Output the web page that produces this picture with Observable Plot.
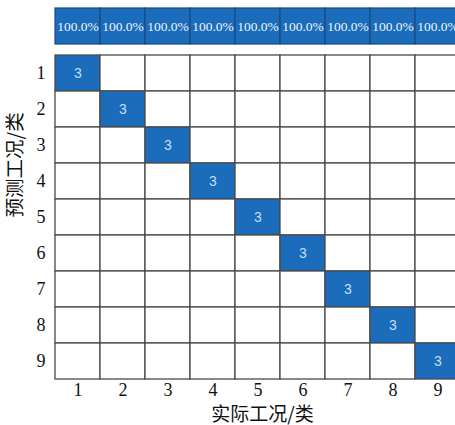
<!DOCTYPE html>
<html>
<head>
<meta charset="utf-8">
<script src="https://cdn.jsdelivr.net/npm/d3@7"></script>
<script src="https://cdn.jsdelivr.net/npm/@observablehq/plot@0.6"></script>
<style>
  html, body { margin: 0; padding: 0; background: #fff; overflow: hidden; width: 455px; height: 425px; }
  #chart { width: 455px; overflow: hidden; }
  #chart svg { display: block; max-width: none !important; }
</style>
</head>
<body>
<div id="chart"></div>
<script>
// Class labels (actual on x, predicted on y)
const actualClasses = ["1","2","3","4","5","6","7","8","9"];
const predictedClasses = ["1","2","3","4","5","6","7","8","9"];
// Diagonal counts (correctly classified samples per class); all off-diagonal cells are 0
const diagonalCounts = [3,3,3,3,3,3,3,3,3];
// Per-class accuracy shown in the top strip
const accuracyLabels = ["100.0%","100.0%","100.0%","100.0%","100.0%","100.0%","100.0%","100.0%","100.0%"];

const xTitle = "实际工况/类";
const yTitle = "预测工况/类";

const blue = "#1b6dbb";
const serif = "Liberation Serif";
const cjk = "Noto Sans CJK SC";

const cells = [];
predictedClasses.forEach((p, i) => {
  actualClasses.forEach((a, j) => {
    cells.push({actual: a, predicted: p, count: i === j ? diagonalCounts[j] : 0});
  });
});
const accuracy = actualClasses.map((a, j) => ({actual: a, label: accuracyLabels[j]}));

const svgStyle = {maxWidth: "none", overflow: "hidden", background: "#fff"};

const stripChart = Plot.plot({
  width: 461, height: 54,
  marginLeft: 53, marginRight: 0, marginTop: 8, marginBottom: 10,
  style: svgStyle,
  x: {type: "band", domain: actualClasses, padding: 0, axis: null},
  marks: [
    Plot.cell(accuracy, {x: "actual", fill: blue, stroke: "#1a4c80", strokeWidth: 1.2}),
    Plot.text(accuracy, {x: "actual", frameAnchor: "middle", text: "label", fill: "#eef4fb",
      fontSize: 13.5, fontFamily: serif})
  ]
});

const matrixChart = Plot.plot({
  width: 461, height: 371,
  marginLeft: 53, marginRight: 0, marginTop: 1, marginBottom: 46,
  style: svgStyle,
  x: {type: "band", domain: actualClasses, padding: 0},
  y: {type: "band", domain: predictedClasses, padding: 0},
  marks: [
    Plot.cell(cells, {x: "actual", y: "predicted", fill: d => d.count > 0 ? blue : "#ffffff",
      stroke: "#4a4a4a", strokeWidth: 1.3}),
    Plot.text(cells.filter(d => d.count > 0), {x: "actual", y: "predicted", text: d => String(d.count),
      fill: "#c6def5", fontSize: 14, fontFamily: "Liberation Sans"}),
    Plot.axisX({tickSize: 0, tickPadding: 4, fontSize: 18, fontFamily: serif, fill: "#111", label: null}),
    Plot.axisY({tickSize: 0, tickPadding: 8, fontSize: 18, fontFamily: serif, fill: "#111", label: null}),
    Plot.text([xTitle], {frameAnchor: "bottom", lineAnchor: "middle", dy: 35, dx: 5,
      fontSize: 19, fontFamily: cjk, fill: "#111"}),
    Plot.text([yTitle], {frameAnchor: "left", rotate: -90, dx: -38, dy: 0,
      fontSize: 19.5, fontFamily: cjk, fill: "#111"})
  ]
});

const chart = document.getElementById("chart");
chart.appendChild(stripChart);
chart.appendChild(matrixChart);
</script>
</body>
</html>
